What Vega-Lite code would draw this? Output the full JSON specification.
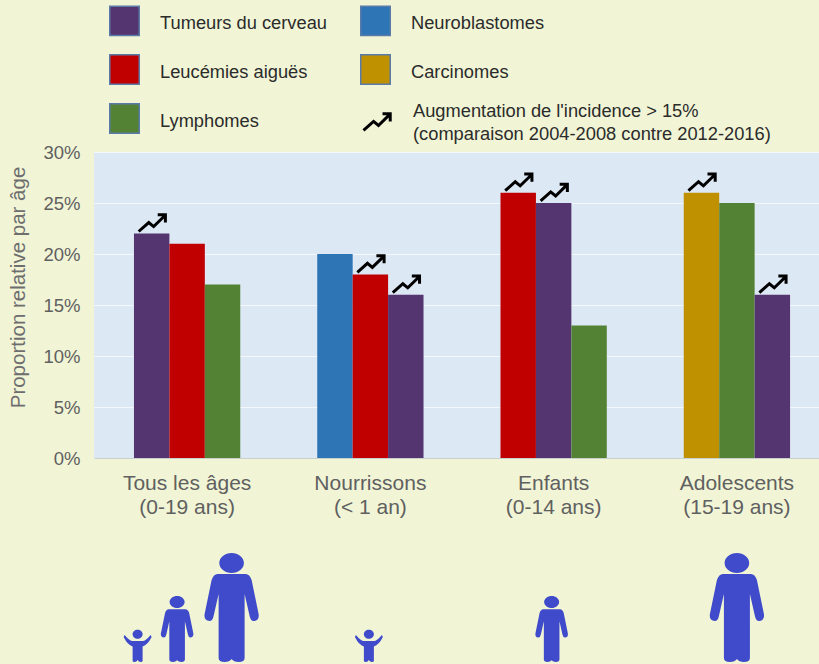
{"$schema":"https://vega.github.io/schema/vega-lite/v6.json","width":725,"height":306,"autosize":{"type":"none"},"padding":{"left":94,"top":152,"right":0,"bottom":206},"background":"#f1f5d6","config":{"font":"Liberation Sans","view":{"fill":"#dde8f5","stroke":null}},"data":{"values":[{"groupe":"Tous les âges|(0-19 ans)","rang":1,"type":"Tumeurs du cerveau","valeur":0.22,"hausse":true},{"groupe":"Tous les âges|(0-19 ans)","rang":2,"type":"Leucémies aiguës","valeur":0.21,"hausse":false},{"groupe":"Tous les âges|(0-19 ans)","rang":3,"type":"Lymphomes","valeur":0.17,"hausse":false},{"groupe":"Nourrissons|(< 1 an)","rang":1,"type":"Neuroblastomes","valeur":0.2,"hausse":false},{"groupe":"Nourrissons|(< 1 an)","rang":2,"type":"Leucémies aiguës","valeur":0.18,"hausse":true},{"groupe":"Nourrissons|(< 1 an)","rang":3,"type":"Tumeurs du cerveau","valeur":0.16,"hausse":true},{"groupe":"Enfants|(0-14 ans)","rang":1,"type":"Leucémies aiguës","valeur":0.26,"hausse":true},{"groupe":"Enfants|(0-14 ans)","rang":2,"type":"Tumeurs du cerveau","valeur":0.25,"hausse":true},{"groupe":"Enfants|(0-14 ans)","rang":3,"type":"Lymphomes","valeur":0.13,"hausse":false},{"groupe":"Adolescents|(15-19 ans)","rang":1,"type":"Carcinomes","valeur":0.26,"hausse":true},{"groupe":"Adolescents|(15-19 ans)","rang":2,"type":"Lymphomes","valeur":0.25,"hausse":false},{"groupe":"Adolescents|(15-19 ans)","rang":3,"type":"Tumeurs du cerveau","valeur":0.16,"hausse":true}]},"resolve":{"scale":{"shape":"independent"},"legend":{"shape":"independent"}},"layer":[{"mark":{"type":"bar"},"encoding":{"x":{"field":"groupe","type":"nominal","sort":null,"scale":{"paddingInner":0.42,"paddingOuter":0.188,"align":0.58},"axis":{"title":null,"labelExpr":"split(datum.label,'|')","labelAngle":0,"labelFontSize":21,"labelColor":"#606060","labelLineHeight":24,"labelPadding":14,"ticks":false,"domainColor":"#c9d0d0","domainWidth":1,"labelLimit":300}},"xOffset":{"field":"rang","type":"nominal","scale":{"paddingInner":0,"paddingOuter":0}},"y":{"field":"valeur","type":"quantitative","scale":{"domain":[0,0.3]},"axis":{"title":"Proportion relative par âge","titleFontSize":20.5,"titleFontWeight":"normal","titleColor":"#6e6e6e","titleX":-66,"titleY":135,"format":".0%","values":[0,0.05,0.1,0.15,0.2,0.25,0.3],"labelFontSize":18.5,"labelColor":"#606060","labelPadding":14,"ticks":false,"domain":false,"gridColor":"#f4f7fb","gridWidth":1.2}},"color":{"field":"type","type":"nominal","scale":{"domain":["Tumeurs du cerveau","Leucémies aiguës","Lymphomes","Neuroblastomes","Carcinomes"],"range":["#54356f","#c00000","#548235","#2e75b6","#bf9000"]},"legend":{"orient":"none","legendX":15,"legendY":-147,"columns":2,"title":null,"symbolType":"square","symbolSize":870,"symbolStrokeColor":"#5a7ba8","symbolStrokeWidth":1.5,"symbolOpacity":1,"labelFontSize":18.3,"labelColor":"#2b2b2b","labelOffset":20,"labelLimit":300,"rowPadding":12,"columnPadding":30,"encoding":{"labels":{"dy":{"value":3}}}}}}},{"transform":[{"filter":"datum.hausse"}],"mark":{"type":"point","filled":false,"stroke":"#000000","strokeWidth":3,"size":784,"opacity":1,"yOffset":-21},"encoding":{"x":{"field":"groupe","type":"nominal","sort":null,"scale":{"paddingInner":0.42,"paddingOuter":0.188,"align":0.58}},"xOffset":{"field":"rang","type":"nominal","scale":{"paddingInner":0,"paddingOuter":0}},"y":{"field":"valeur","type":"quantitative"},"shape":{"datum":"Augmentation de l'incidence > 15%|(comparaison 2004-2008 contre 2012-2016)","scale":{"domain":["Augmentation de l'incidence > 15%|(comparaison 2004-2008 contre 2012-2016)"],"range":["M-0.93,1.35L-0.21,0.71L0.14,1L0.95,0.21M0.43,0.16L0.98,0.16L0.98,0.71"]},"legend":{"orient":"none","legendX":267,"legendY":-56,"title":null,"symbolStrokeColor":"#000000","symbolStrokeWidth":3,"symbolSize":784,"symbolFillColor":"transparent","symbolOpacity":1,"labelExpr":"split(datum.label,'|')","labelFontSize":18.3,"labelColor":"#2b2b2b","labelOffset":21,"labelLimit":500,"encoding":{"labels":{"lineHeight":{"value":23}}}}}}},{"data":{"values":[{"groupe":"Tous les âges|(0-19 ans)"},{"groupe":"Nourrissons|(< 1 an)"},{"groupe":"Enfants|(0-14 ans)"},{"groupe":"Adolescents|(15-19 ans)"}]},"mark":{"type":"point","filled":true,"fill":"#3f4bca","stroke":null,"size":4,"opacity":1},"encoding":{"x":{"field":"groupe","type":"nominal","sort":null,"scale":{"paddingInner":0.42,"paddingOuter":0.188,"align":0.58}},"y":{"datum":-0.2},"shape":{"field":"groupe","type":"nominal","legend":null,"scale":{"domain":["Tous les âges|(0-19 ans)","Nourrissons|(< 1 an)","Enfants|(0-14 ans)","Adolescents|(15-19 ans)"],"range":["M-62.5,-27q5,6 8,6h10q3,0 8,-6l1,2q-4,8 -9,9.5v14.5q0,1 -2,1q-2,0 -3,-2q-1,2 -3,2q-2,0 -2,-1v-14.5q-5,-1.5 -9,-9.5zM-54.5,-27.7a5,4.5 0 1,0 10,0a5,4.5 0 1,0 -10,0zM-18.4,-52.8h16.8q2.4,0 3.6,3.6l4.2,20.4q0.6,4.2 -3,4.2q-1.8,0 -2.4,-3l-3,-13.2v38.4q0,2.4 -3.6,2.4q-3,0 -4.2,-1.8q-1.2,1.8 -4.2,1.8q-3.6,0 -3.6,-2.4v-38.4l-3,13.2q-0.6,3 -2.4,3q-3.6,0 -3,-4.2l4.2,-20.4q1.2,-3.6 3.6,-3.6zM-17.5,-60a7.5,6 0 1,0 15,0a7.5,6 0 1,0 -15,0zM30.5,-88h28q4,0 6,6l7,34q1,7 -5,7q-3,0 -4,-5l-5,-22v64q0,4 -6,4q-5,0 -7,-3q-2,3 -7,3q-6,0 -6,-4v-64l-5,22q-1,5 -4,5q-6,0 -5,-7l7,-34q2,-6 6,-6zM32.2,-99a12.3,10 0 1,0 24.6,0a12.3,10 0 1,0 -24.6,0z","M-14.5,-27q5,6 8,6h10q3,0 8,-6l1,2q-4,8 -9,9.5v14.5q0,1 -2,1q-2,0 -3,-2q-1,2 -3,2q-2,0 -2,-1v-14.5q-5,-1.5 -9,-9.5zM-6.5,-27.7a5,4.5 0 1,0 10,0a5,4.5 0 1,0 -10,0z","M-10.4,-52.8h16.8q2.4,0 3.6,3.6l4.2,20.4q0.6,4.2 -3,4.2q-1.8,0 -2.4,-3l-3,-13.2v38.4q0,2.4 -3.6,2.4q-3,0 -4.2,-1.8q-1.2,1.8 -4.2,1.8q-3.6,0 -3.6,-2.4v-38.4l-3,13.2q-0.6,3 -2.4,3q-3.6,0 -3,-4.2l4.2,-20.4q1.2,-3.6 3.6,-3.6zM-9.5,-60a7.5,6 0 1,0 15,0a7.5,6 0 1,0 -15,0z","M-14,-88h28q4,0 6,6l7,34q1,7 -5,7q-3,0 -4,-5l-5,-22v64q0,4 -6,4q-5,0 -7,-3q-2,3 -7,3q-6,0 -6,-4v-64l-5,22q-1,5 -4,5q-6,0 -5,-7l7,-34q2,-6 6,-6zM-12.3,-99a12.3,10 0 1,0 24.6,0a12.3,10 0 1,0 -24.6,0z"]}}}}]}
